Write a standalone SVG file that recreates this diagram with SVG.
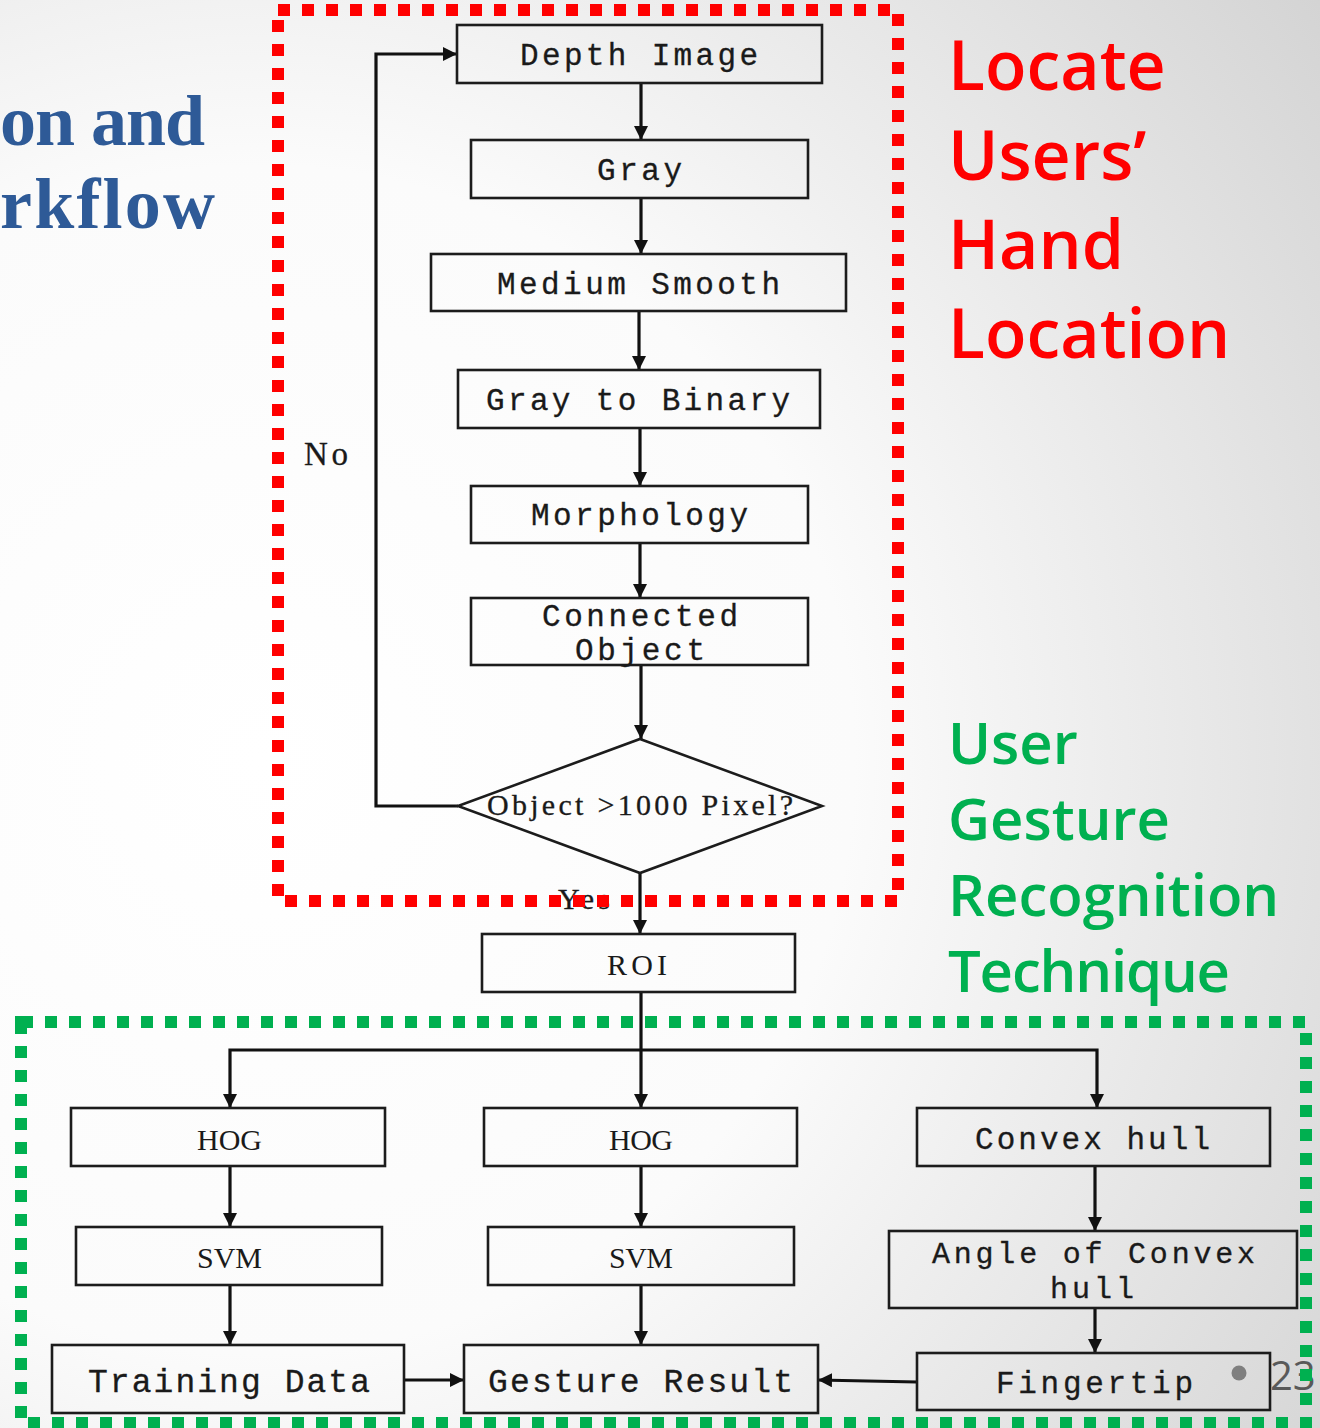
<svg xmlns="http://www.w3.org/2000/svg" width="1320" height="1428" viewBox="0 0 1320 1428">
  <defs>
    <radialGradient id="bg" gradientUnits="userSpaceOnUse" cx="260" cy="760" r="1320">
      <stop offset="0" stop-color="#ffffff"/>
      <stop offset="0.45" stop-color="#fbfbfb"/>
      <stop offset="1" stop-color="#d3d3d3"/>
    </radialGradient>
    <marker id="arrow" viewBox="0 0 14 14" refX="14" refY="7" markerWidth="14" markerHeight="14" orient="auto" markerUnits="userSpaceOnUse">
      <path d="M0,0 L14,7 L0,14 z" fill="#111"/>
    </marker>
    <style>
      .box { fill: none; stroke: #1c1c1c; stroke-width: 2.6; }
      .step { font-family: "Liberation Mono", "DejaVu Sans Mono", monospace; font-size: 31px; fill: #1a1a1a; stroke: #1a1a1a; stroke-width: 0.3; }
      .step.big { font-size: 33px; }
      .step.narrow { font-size: 30px; }
      .serif { font-family: "Liberation Serif", "DejaVu Serif", serif; font-size: 30px; fill: #1a1a1a; }
      .small { font-family: "Liberation Serif", "DejaVu Serif", serif; font-size: 30px; fill: #1a1a1a; stroke: #1a1a1a; stroke-width: 0.3; }
      .small.no { font-size: 33px; }
      .link { fill: none; stroke: #111; stroke-width: 3.2; }
      .arr { marker-end: url(#arrow); }
      .title { font-family: "Liberation Serif", "DejaVu Serif", serif; font-weight: bold; font-size: 72px; fill: #2e5a97; }
      .red { font-family: "Open Sans", "Noto Sans", sans-serif; font-weight: 600; font-size: 68px; fill: #ff0000; }
      .green { font-family: "Open Sans", "Noto Sans", sans-serif; font-weight: 600; font-size: 58px; fill: #00b050; }
      .frame { fill: none; stroke-width: 12; stroke-dasharray: 12 12; }
    </style>
  </defs>

  <!-- slide background -->
  <rect x="0" y="0" width="1320" height="1428" fill="url(#bg)"/>

  <!-- slide title (cut by the left edge) -->
  <g id="title">
    <text class="title" x="0" y="145" textLength="205">on and</text>
    <text class="title" x="0" y="228" textLength="215">rkflow</text>
  </g>

  <!-- side captions -->
  <g id="caption-locate">
    <text class="red" x="948" y="90">Locate</text>
    <text class="red" x="948" y="180">Users’</text>
    <text class="red" x="948" y="269">Hand</text>
    <text class="red" x="948" y="358">Location</text>
  </g>
  <g id="caption-gesture">
    <text class="green" x="948" y="764">User</text>
    <text class="green" x="948" y="840">Gesture</text>
    <text class="green" x="948" y="916">Recognition</text>
    <text class="green" x="948" y="992" textLength="282">Technique</text>
  </g>

  <!-- connectors -->
  <g id="connectors">
    <line class="link arr" x1="641" y1="83" x2="641" y2="140"/>
    <line class="link arr" x1="641" y1="198" x2="641" y2="254"/>
    <line class="link arr" x1="639" y1="311" x2="639" y2="370"/>
    <line class="link arr" x1="640" y1="428" x2="640" y2="486"/>
    <line class="link arr" x1="640" y1="543" x2="640" y2="598"/>
    <line class="link arr" x1="641" y1="665" x2="641" y2="739"/>
    <polyline class="link arr" points="458,806 376,806 376,54 457,54"/>
    <line class="link arr" x1="640" y1="873" x2="640" y2="934"/>
    <line class="link arr" x1="641" y1="992" x2="641" y2="1108"/>
    <polyline class="link arr" points="641,1050 230,1050 230,1108"/>
    <polyline class="link arr" points="641,1050 1097,1050 1097,1108"/>
    <line class="link arr" x1="230" y1="1166" x2="230" y2="1227"/>
    <line class="link arr" x1="230" y1="1285" x2="230" y2="1345"/>
    <line class="link arr" x1="641" y1="1166" x2="641" y2="1227"/>
    <line class="link arr" x1="641" y1="1285" x2="641" y2="1345"/>
    <line class="link arr" x1="1095" y1="1166" x2="1095" y2="1231"/>
    <line class="link arr" x1="1095" y1="1308" x2="1095" y2="1353"/>
    <line class="link arr" x1="404" y1="1380" x2="464" y2="1380"/>
    <line class="link arr" x1="917" y1="1382" x2="818" y2="1380"/>
    <text class="small no" x="304" y="465" textLength="44">No</text>
    <text class="small" x="558" y="909" textLength="52">Yes</text>
  </g>

  <!-- hand location steps -->
  <g id="depth-image">
    <rect class="box" x="457" y="25" width="365" height="58"/>
    <text class="step" x="520" y="65" textLength="238">Depth Image</text>
  </g>
  <g id="gray">
    <rect class="box" x="471" y="140" width="337" height="58"/>
    <text class="step" x="597" y="180" textLength="85">Gray</text>
  </g>
  <g id="medium-smooth">
    <rect class="box" x="431" y="254" width="415" height="57"/>
    <text class="step" x="497" y="294" textLength="283">Medium Smooth</text>
  </g>
  <g id="gray-to-binary">
    <rect class="box" x="458" y="370" width="362" height="58"/>
    <text class="step" x="486" y="410" textLength="304">Gray to Binary</text>
  </g>
  <g id="morphology">
    <rect class="box" x="471" y="486" width="337" height="57"/>
    <text class="step" x="531" y="525" textLength="217">Morphology</text>
  </g>
  <g id="connected-object">
    <rect class="box" x="471" y="598" width="337" height="67"/>
    <text class="step" x="542" y="626" textLength="196">Connected</text>
    <text class="step" x="575" y="660" textLength="130">Object</text>
  </g>
  <g id="pixel-check">
    <polygon class="box" points="640,739 822,806 640,873 458,806"/>
    <text class="small" x="487" y="815" textLength="306">Object &gt;1000 Pixel?</text>
  </g>
  <g id="roi">
    <rect class="box" x="482" y="934" width="313" height="58"/>
    <text class="serif" x="607" y="975" textLength="60">ROI</text>
  </g>

  <!-- gesture recognition steps -->
  <g id="hog-train">
    <rect class="box" x="71" y="1108" width="314" height="58"/>
    <text class="serif" x="197" y="1150" textLength="65">HOG</text>
  </g>
  <g id="svm-train">
    <rect class="box" x="76" y="1227" width="306" height="58"/>
    <text class="serif" x="197" y="1268" textLength="65">SVM</text>
  </g>
  <g id="training-data">
    <rect class="box" x="52" y="1345" width="352" height="68"/>
    <text class="step big" x="88" y="1392" textLength="282">Training Data</text>
  </g>
  <g id="hog-test">
    <rect class="box" x="484" y="1108" width="313" height="58"/>
    <text class="serif" x="609" y="1150" textLength="64">HOG</text>
  </g>
  <g id="svm-test">
    <rect class="box" x="488" y="1227" width="306" height="58"/>
    <text class="serif" x="609" y="1268" textLength="64">SVM</text>
  </g>
  <g id="gesture-result">
    <rect class="box" x="464" y="1345" width="354" height="68"/>
    <text class="step big" x="488" y="1392" textLength="305">Gesture Result</text>
  </g>
  <g id="convex-hull">
    <rect class="box" x="917" y="1108" width="353" height="58"/>
    <text class="step" x="975" y="1149" textLength="235">Convex hull</text>
  </g>
  <g id="convex-angle">
    <rect class="box" x="889" y="1231" width="408" height="77"/>
    <text class="step narrow" x="932" y="1263" textLength="323">Angle of Convex</text>
    <text class="step narrow" x="1050" y="1298" textLength="84">hull</text>
  </g>
  <g id="fingertip">
    <rect class="box" x="917" y="1353" width="353" height="57"/>
    <text class="step" x="996" y="1393" textLength="197">Fingertip</text>
  </g>

  <!-- slide number -->
  <g id="page-number">
    <circle cx="1239" cy="1373" r="7.5" fill="#7f7f7f"/>
    <text x="1270" y="1390" font-family="'Open Sans', 'Noto Sans', sans-serif" font-size="40" fill="#595959">23</text>
  </g>

  <!-- dotted region frames -->
  <g id="frames">
    <rect class="frame" stroke="#ff0000" x="278" y="10" width="620" height="891"/>
    <rect class="frame" stroke="#00b050" x="21" y="1022" width="1285" height="401"/>
  </g>
</svg>
